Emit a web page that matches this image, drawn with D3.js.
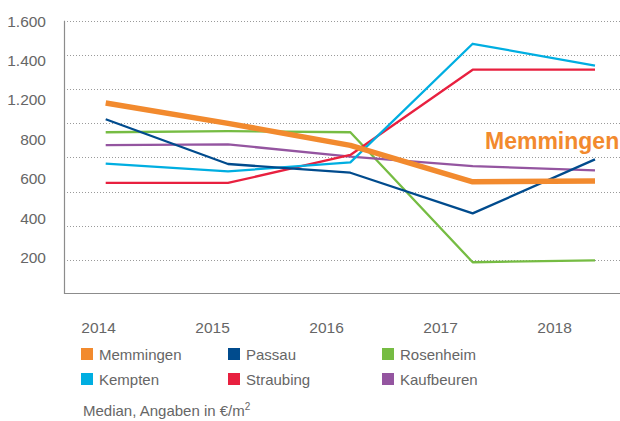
<!DOCTYPE html>
<html>
<head>
<meta charset="utf-8">
<script src="https://cdn.jsdelivr.net/npm/d3@7"></script>
<style>
body { margin:0; background:#fff; }
text { font-family:"Liberation Sans", Arial, sans-serif; fill:#666; }
</style>
</head>
<body>
<svg id="graph"></svg>
<script>
var years = ["2014","2015","2016","2017","2018"]
var yTickLabels = ["1.600","1.400","1.200","800","600","400","200"]
var gridValues = [200,400,600,800,1000,1200,1400,1600]

var cities = ["Rosenheim","Kaufbeuren","Straubing","Kempten","Passau","Memmingen"]
var memmingen = [1118,999,870,657,661]
var passau = [1023,761,710,472,788]
var rosenheim = [947,954,947,186,197]
var kempten = [763,718,771,1465,1337]
var straubing = [650,650,814,1313,1313]
var kaufbeuren = [872,876,804,749,724]

var legendOrder = ["Memmingen","Passau","Rosenheim","Kempten","Straubing","Kaufbeuren"]

var colors = {
    Memmingen:"#f28a2e",
    Passau:"#004b8d",
    Rosenheim:"#76bc43",
    Kempten:"#00aee1",
    Straubing:"#e8203f",
    Kaufbeuren:"#9455a0"
}

var seriesValues = {
    Memmingen:memmingen,
    Passau:passau,
    Rosenheim:rosenheim,
    Kempten:kempten,
    Straubing:straubing,
    Kaufbeuren:kaufbeuren
}

var screen = {width:620,height:421}
var plot = {left:64,right:620,top:20.7,bottom:293.5}

var svg = d3.select("#graph")
    .attr("width",screen.width)
    .attr("height",screen.height)

var xScale = d3.scalePoint()
    .domain(years)
    .range([105.7,595])

var yScale = d3.scaleLinear()
    .domain([0,1600])
    .range([294,plot.top])

// tick labels in the original sit on their own spacing
var yLabelScale = d3.scalePoint()
    .domain(yTickLabels)
    .range([20.7,257])

var xLabelScale = d3.scalePoint()
    .domain(years)
    .range([98,554])

var drawGrid = function()
{
    svg.append("g")
        .selectAll("line")
        .data(gridValues)
        .enter()
        .append("line")
        .attr("x1",plot.left)
        .attr("x2",plot.right)
        .attr("y1",function(v){ return Math.round(yScale(v))+0.5 })
        .attr("y2",function(v){ return Math.round(yScale(v))+0.5 })
        .attr("stroke","#9a9a9a")
        .attr("stroke-width",1)
        .attr("stroke-dasharray","1,2")

    svg.append("path")
        .attr("d","M"+(plot.left+0.5)+","+plot.top+"V"+plot.bottom+"H"+plot.right)
        .attr("fill","none")
        .attr("stroke","#8c8c8c")
        .attr("stroke-width",1.2)
}

var drawAxes = function()
{
    var yAxis = d3.axisLeft(yLabelScale).tickSize(0).tickPadding(0)
    var gy = svg.append("g")
        .attr("transform","translate(46,0)")
        .call(yAxis)
    gy.select(".domain").remove()
    gy.selectAll("text")
        .style("font-size","15.5px")
        .attr("fill","#666")
        .attr("dy","0.35em")

    var xAxis = d3.axisBottom(xLabelScale).tickSize(0).tickPadding(0)
    var gx = svg.append("g")
        .attr("transform","translate(0,322)")
        .call(xAxis)
    gx.select(".domain").remove()
    gx.selectAll("text")
        .style("font-size","15.5px")
        .attr("fill","#666")
}

var drawLines = function()
{
    var line = d3.line()
        .x(function(d,i){ return xScale(years[i]) })
        .y(function(d){ return yScale(d) })

    svg.append("g")
        .selectAll("path")
        .data(cities)
        .enter()
        .append("path")
        .attr("d",function(c){ return line(seriesValues[c]) })
        .attr("fill","none")
        .attr("stroke",function(c){ return colors[c] })
        .attr("stroke-width",function(c){ return c=="Memmingen" ? 5.5 : 2.3 })
        .attr("stroke-linejoin","round")
}

var drawLabels = function()
{
    svg.append("text")
        .text("Memmingen")
        .attr("x",485)
        .attr("y",149)
        .style("font-size","23px")
        .style("font-weight","bold")
        .style("fill",colors.Memmingen)

    var foot = svg.append("text")
        .attr("x",83)
        .attr("y",416)
        .style("font-size","15px")
        .style("fill","#666")
    foot.append("tspan").text("Median, Angaben in €/m")
    foot.append("tspan").text("2").attr("dy",-6).style("font-size","10px")
}

var drawLegend = function()
{
    var colX = [81,228,382]
    var rowY = [348,373]

    var entries = svg.append("g")
        .selectAll("g")
        .data(legendOrder)
        .enter()
        .append("g")
        .attr("transform",function(c,i)
            {
                return "translate("+colX[i%3]+","+rowY[Math.floor(i/3)]+")"
            })
    entries.append("rect")
        .attr("width",12)
        .attr("height",12)
        .attr("fill",function(c){ return colors[c] })
    entries.append("text")
        .text(function(c){ return c })
        .attr("x",18)
        .attr("y",11.5)
        .style("font-size","15px")
        .style("fill","#666")
}

drawGrid();
drawLines();
drawAxes();
drawLabels();
drawLegend();
</script>
</body>
</html>
